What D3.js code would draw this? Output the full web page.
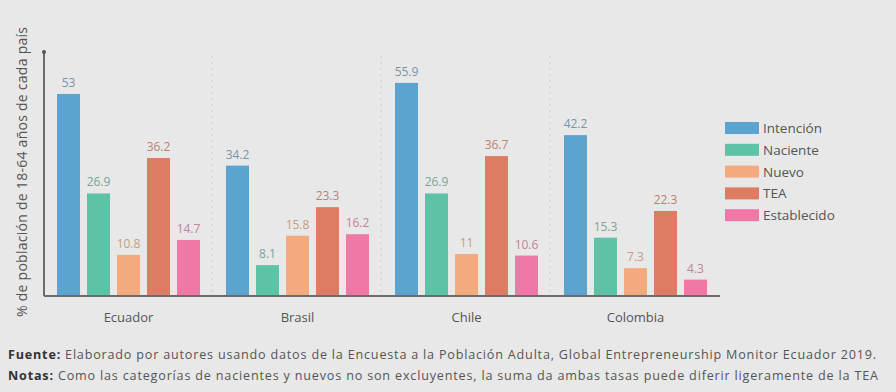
<!DOCTYPE html>
<html><head><meta charset="utf-8">
<script src="https://cdn.jsdelivr.net/npm/d3@7"></script>
<style>
html,body{margin:0;padding:0;background:#e8e8e8;}
svg{display:block;font-family:"Open Sans","Noto Sans",sans-serif;}
</style></head>
<body><svg id="c" width="896" height="392"></svg>
<script>
const countries = ["Ecuador","Brasil","Chile","Colombia"];
const seriesNames = ["Intención","Naciente","Nuevo","TEA","Establecido"];
const intencion = [53, 34.2, 55.9, 42.2];
const naciente = [26.9, 8.1, 26.9, 15.3];
const nuevo = [10.8, 15.8, 11, 7.3];
const tea = [36.2, 23.3, 36.7, 22.3];
const establecido = [14.7, 16.2, 10.6, 4.3];
const valueLabels = [
  ["53","34.2","55.9","42.2"],
  ["26.9","8.1","26.9","15.3"],
  ["10.8","15.8","11","7.3"],
  ["36.2","23.3","36.7","22.3"],
  ["14.7","16.2","10.6","4.3"]
];
const seriesValues = [intencion, naciente, nuevo, tea, establecido];
const colors = ["#5ba4d0","#5ec2a6","#f3aa7c","#de7b63","#ef78a7"];
const labelColors = ["#7894a8","#78a598","#c69d80","#bd8072","#c1839b"];
const yTitle = "% de población de 18-64 años de cada país";

(function(){
const svg = d3.select("#c");
const mLeft = 44, mRight = 720, mTop = 52, mBottom = 296;
const x0 = d3.scaleBand().domain(countries).range([mLeft, mLeft + 169*4]).paddingInner(0).paddingOuter(0);
const x1 = d3.scaleBand().domain(seriesNames).range([13, 13 + 143]).paddingInner(7/30).paddingOuter(0);
const y = d3.scaleLinear().domain([0, 64]).range([mBottom, mTop]);

svg.append("g").selectAll("line").data(countries.slice(1)).join("line")
  .attr("x1", d => x0(d) - 1).attr("x2", d => x0(d) - 1)
  .attr("y1", mTop + 4).attr("y2", mBottom)
  .attr("stroke", "#d0d0d0").attr("stroke-width", 1.2).attr("stroke-dasharray", "2,4");

const g = svg.append("g");
seriesNames.forEach((s, si) => {
  countries.forEach((c, ci) => {
    const v = seriesValues[si][ci];
    const bx = x0(c) + x1(s);
    g.append("rect").attr("x", bx).attr("y", y(v)).attr("width", x1.bandwidth())
      .attr("height", y(0) - y(v)).attr("fill", colors[si]);
    g.append("text").attr("x", bx + x1.bandwidth()/2).attr("y", y(v) - 7)
      .attr("text-anchor", "middle").attr("font-size", 12).attr("fill", labelColors[si])
      .text(valueLabels[si][ci]);
  });
});

svg.append("line").attr("x1", mLeft).attr("x2", mLeft).attr("y1", mTop).attr("y2", mBottom)
  .attr("stroke", "#6b6b6b").attr("stroke-width", 2);
svg.append("circle").attr("cx", mLeft).attr("cy", mTop).attr("r", 2).attr("fill", "#555");
const xAxis = svg.append("g").attr("transform", `translate(0,${mBottom})`)
  .call(d3.axisBottom(x0).tickSize(0).tickPadding(17));
xAxis.select(".domain").attr("d", `M${mLeft},0H${mRight}`).attr("stroke", "#6b6b6b").attr("stroke-width", 2);
xAxis.selectAll("text").attr("font-size", 13).attr("fill", "#555")
  .attr("font-family", "'Open Sans','Noto Sans',sans-serif");
xAxis.selectAll(".tick").attr("transform", d => `translate(${x0(d) + 13 + 71.5},0)`);

svg.append("text").attr("transform", "translate(27,172) rotate(-90)")
  .attr("text-anchor", "middle").attr("font-size", 14).attr("fill", "#555")
  .attr("textLength", 290).attr("lengthAdjust", "spacing").text(yTitle);

const lg = svg.append("g").attr("transform", "translate(725,122)");
seriesNames.forEach((s, i) => {
  lg.append("rect").attr("x", 0).attr("y", i*21.8).attr("width", 34).attr("height", 12).attr("fill", colors[i]);
  lg.append("text").attr("x", 38).attr("y", i*21.8 + 11).attr("font-size", 13.5).attr("fill", "#555").text(s);
});

const f1 = svg.append("text").attr("x", 8).attr("y", 359).attr("font-size", 12.6).attr("fill", "#555")
  .attr("textLength", 868).attr("lengthAdjust", "spacing");
f1.append("tspan").attr("font-weight", "bold").attr("fill", "#333").text("Fuente:");
f1.append("tspan").text(" Elaborado por autores usando datos de la Encuesta a la Población Adulta, Global Entrepreneurship Monitor Ecuador 2019.");
const f2 = svg.append("text").attr("x", 8).attr("y", 380).attr("font-size", 12.6).attr("fill", "#555")
  .attr("textLength", 870).attr("lengthAdjust", "spacing");
f2.append("tspan").attr("font-weight", "bold").attr("fill", "#333").text("Notas:");
f2.append("tspan").text(" Como las categorías de nacientes y nuevos no son excluyentes, la suma da ambas tasas puede diferir ligeramente de la TEA");
})();
</script></body></html>
